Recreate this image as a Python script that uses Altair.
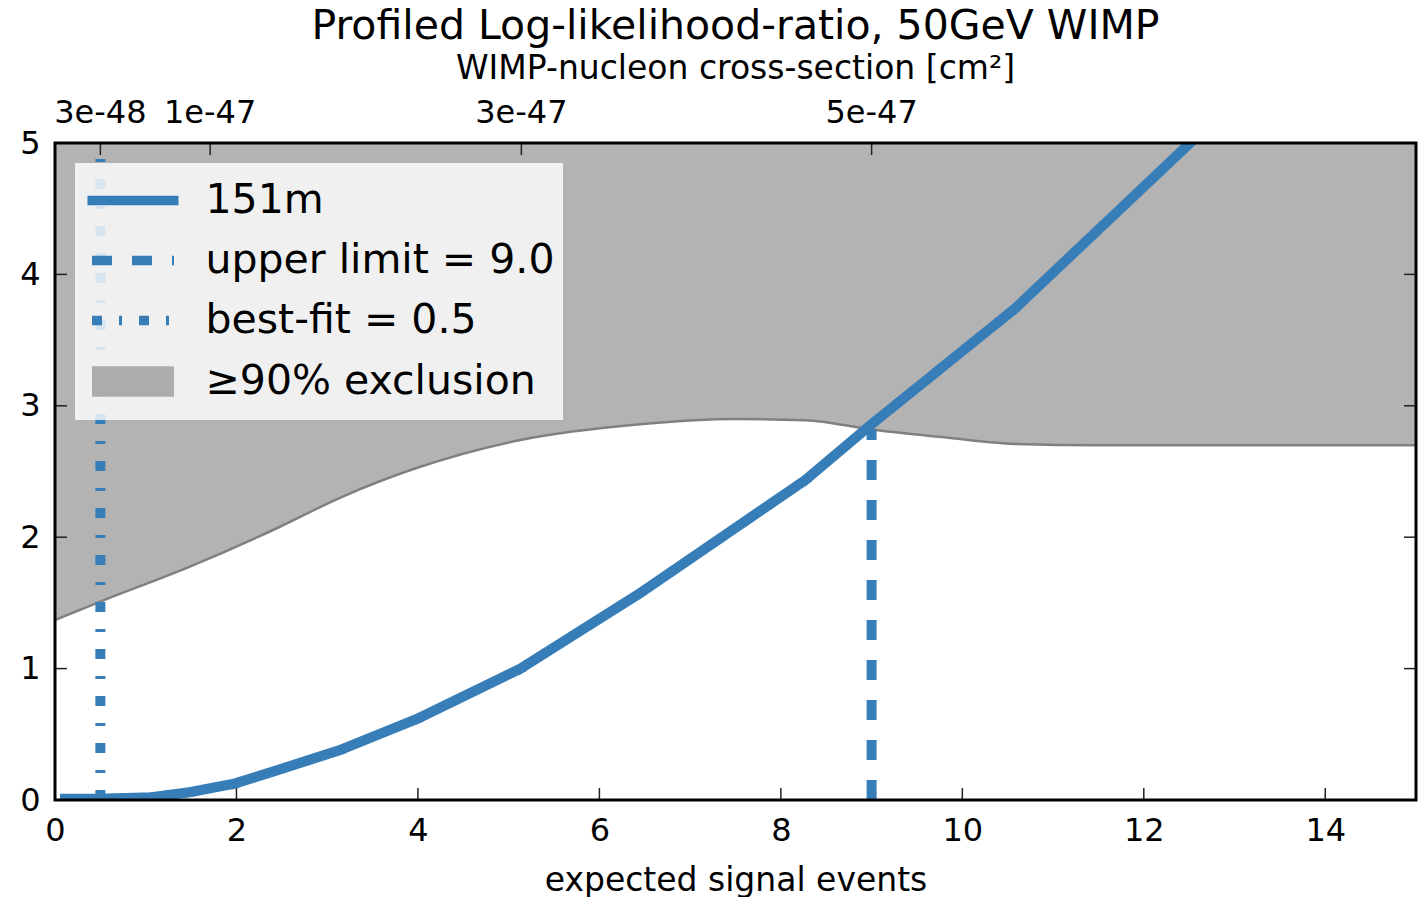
import altair as alt
import pandas as pd

FONT = "DejaVu Sans"
BLUE = "#377eb8"

# ---- data ----
# profiled log-likelihood-ratio curve, 151m
curve_x = [0.11, 0.5, 1.05, 1.49, 1.98, 2.42, 3.14, 4.0, 5.13, 6.45, 8.27, 9.0, 10.58, 12.51]
curve_y = [0.01, 0.01, 0.02, 0.06, 0.125, 0.22, 0.38, 0.62, 1.0, 1.575, 2.435, 2.86, 3.74, 5.0]

# 90% exclusion threshold (lower edge of the grey band)
thr_x = [0, 0.5, 1.5, 2.45, 3.14, 4.0, 5.13, 6.45, 7.5, 8.27, 9.0, 9.8, 10.58, 11.5, 15]
thr_y = [1.37, 1.51, 1.78, 2.07, 2.30, 2.53, 2.74, 2.86, 2.90, 2.89, 2.82, 2.76, 2.71, 2.70, 2.70]
band_top = 5

# vertical markers
vl_series = ["upper limit = 9.0", "best-fit = 0.5"]
vl_x = [9.0, 0.5]
vl_y0 = [0, 0]
vl_y1 = [2.82, 5.0]

# legend entries
series = ["151m", "upper limit = 9.0", "best-fit = 0.5", "\u226590% exclusion"]
series_colors = [BLUE, BLUE, BLUE, "#acacac"]
series_dash = [[1, 0], [20, 20], [10, 17, 3, 17], [1, 0]]

# axes
x_ticks = [0, 2, 4, 6, 8, 10, 12, 14]
y_ticks = [0, 1, 2, 3, 4, 5]
top_pos = [0.5, 1.71, 5.14, 9.0]
top_labels = ["3e-48", "1e-47", "3e-47", "5e-47"]

W, H = 1361, 657

curve_df = pd.DataFrame({"x": curve_x, "y": curve_y, "series": series[0]})
thr_df = pd.DataFrame({"x": thr_x, "y": thr_y})
vl_df = pd.DataFrame({"x": vl_x, "y0": vl_y0, "y1": vl_y1, "series": vl_series})
xt_df = pd.DataFrame({"x": x_ticks})
yt_df = pd.DataFrame({"y": y_ticks})
tt_df = pd.DataFrame({"x": top_pos, "label": top_labels})
frame_df = pd.DataFrame({"k": [0]})

xscale = alt.Scale(domain=[0, 15], nice=False, zero=False)
yscale = alt.Scale(domain=[0, 5], nice=False, zero=False)
color_scale = alt.Scale(domain=series, range=series_colors)
dash_scale = alt.Scale(domain=series, range=series_dash)

x_axis = alt.Axis(
    orient="bottom", values=x_ticks, format="d", ticks=False, domain=False, grid=False,
    labelFont=FONT, labelFontSize=32, labelColor="black", labelPadding=15, labelFlush=False,
    title="expected signal events", titleFont=FONT, titleFontSize=33,
    titleFontWeight="normal", titleColor="black", titlePadding=18)
y_axis = alt.Axis(
    orient="left", values=y_ticks, format="d", ticks=False, domain=False, grid=False,
    labelFont=FONT, labelFontSize=32, labelColor="black", labelPadding=15,
    labelFlush=False, labelOverlap=False, title=None)


def X(field):
    return alt.X(field, type="quantitative", scale=xscale, axis=x_axis)


def Y(field):
    return alt.Y(field, type="quantitative", scale=yscale, axis=y_axis)


# legend symbol paths (unit = half of sqrt(symbolSize) = 24 px)
solid_path = "M-1.896,0H1.896"
line_path = "M-1.708,0H1.708"
rect_path = ("M-1.708,-0.4375H1.708M-1.708,-0.1458H1.708"
             "M-1.708,0.1458H1.708M-1.708,0.4375H1.708")
sym_expr = (f"datum.value === '{series[0]}' ? '{solid_path}' : "
            f"datum.value === '{series[3]}' ? '{rect_path}' : '{line_path}'")

legend = alt.Legend(
    title=None, orient="none", legendX=20, legendY=20,
    fillColor="rgba(255,255,255,0.8)", padding=8.5, cornerRadius=0,
    labelFont=FONT, labelFontSize=41, labelColor="black", labelLimit=900,
    symbolSize=2304, symbolStrokeWidth=9.5, symbolType={"expr": sym_expr},
    symbolOffset=20.5, labelOffset=43.5, rowPadding=11, symbolOpacity=1,
)

area = alt.Chart(thr_df).mark_area(color="#b3b3b3", opacity=1, interpolate="monotone").encode(
    x=X("x"), y=Y("y"), y2=alt.datum(band_top),
)

boundary = alt.Chart(thr_df).mark_line(color="#808080", strokeWidth=2.5, interpolate="monotone").encode(
    x=X("x"), y=Y("y"),
)

vlines = alt.Chart(vl_df).mark_rule(strokeWidth=10).encode(
    x=X("x"), y=Y("y0"), y2="y1:Q",
    color=alt.Color("series:N", scale=color_scale, legend=legend),
    strokeDash=alt.StrokeDash("series:N", scale=dash_scale, legend=legend),
)

line = alt.Chart(curve_df).mark_line(strokeWidth=10, strokeCap="square", clip=True).encode(
    x=X("x"), y=Y("y"),
    color=alt.Color("series:N", scale=color_scale, legend=legend),
    strokeDash=alt.StrokeDash("series:N", scale=dash_scale, legend=legend),
)

tick_style = dict(color="#222222", strokeWidth=1.5)
bottom_ticks = alt.Chart(xt_df).mark_rule(**tick_style).encode(
    x=X("x"), y=alt.value(H - 12), y2=alt.value(H))
top_ticks = alt.Chart(tt_df).mark_rule(**tick_style).encode(
    x=X("x"), y=alt.value(0), y2=alt.value(12))
top_tick_labels = alt.Chart(tt_df).mark_text(
    font=FONT, fontSize=32, color="black", baseline="alphabetic", align="center").encode(
    x=X("x"), y=alt.value(-20), text="label:N")
left_ticks = alt.Chart(yt_df).mark_rule(**tick_style).encode(
    y=Y("y"), x=alt.value(0), x2=alt.value(12))
right_ticks = alt.Chart(yt_df).mark_rule(**tick_style).encode(
    y=Y("y"), x=alt.value(W - 12), x2=alt.value(W))

frame = alt.Chart(frame_df).mark_rect(fill=None, fillOpacity=0, stroke="black", strokeWidth=3).encode(
    x=alt.value(0), x2=alt.value(W), y=alt.value(0), y2=alt.value(H))

chart = alt.layer(
    area, boundary, vlines, line, bottom_ticks, top_ticks, left_ticks, right_ticks, frame,
    top_tick_labels,
).properties(
    width=W, height=H,
    autosize=alt.AutoSizeParams(type="none"),
    padding={"left": 55, "top": 143, "right": 6, "bottom": 97},
    title=alt.TitleParams(
        "Profiled Log-likelihood-ratio, 50GeV WIMP", font=FONT, fontSize=41,
        fontWeight="normal", color="black", anchor="middle", offset=10,
        subtitle="WIMP-nucleon cross-section [cm\u00b2]", subtitleFont=FONT,
        subtitleFontSize=33, subtitleColor="black", subtitlePadding=5),
).configure_view(stroke=None).configure(background="white")

chart.save("out.html", embed_options={"renderer": "svg", "actions": False})
